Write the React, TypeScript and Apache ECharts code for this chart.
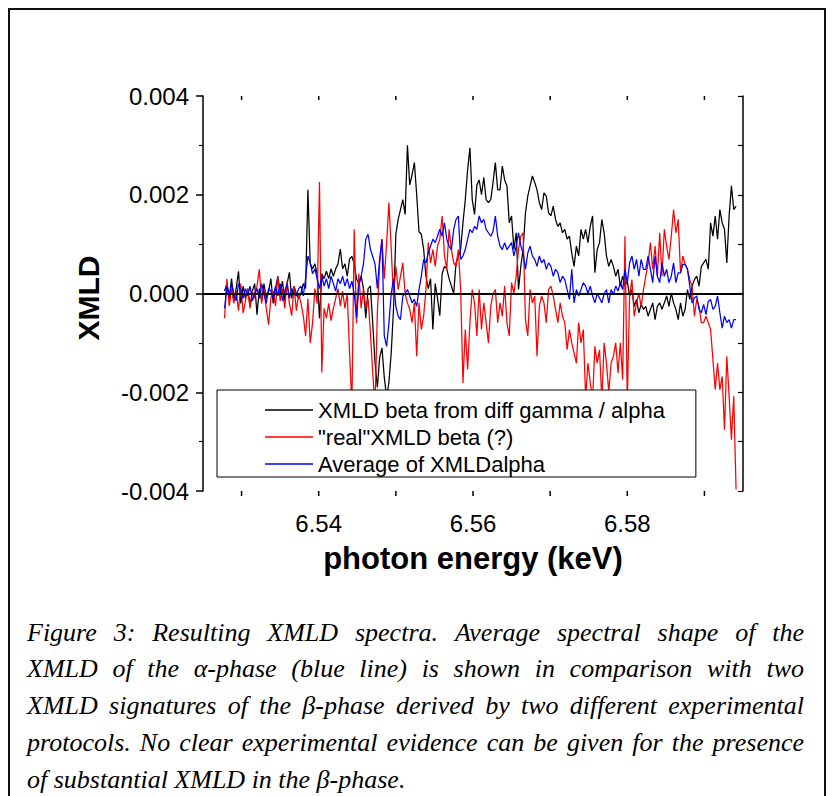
import React, { useEffect, useRef } from 'react';
import * as echarts from 'echarts';

// Energy grid (keV): first sample and spacing
const E0 = 6.5278;
const DE = 0.0003;

const xTickValues = [6.53, 6.54, 6.55, 6.56, 6.57, 6.58, 6.59];
const xLabelValues = [6.54, 6.56, 6.58];

const seriesNames = [
  'XMLD beta from diff gamma / alpha',
  '"real"XMLD beta (?)',
  'Average of XMLDalpha',
];
const seriesColors = ['#000000', '#ff0000', '#0000ff'];

// XMLD values in units of 1e-3
const blackBeta = [
  0.05, 0.2, -0.1, 0.3, -0.15, 0.1, 0.45, -0.2, 0.15, -0.1, 0.1, -0.25, 0.05, 0.2, -0.43, 0.1, -0.15, 0.2, -0.1, 0.05,
  0.3, -0.2, 0.1, 0.35, 0.0, 0.25, -0.15, 0.2, 0.43, -0.1, 0.15, 0.0, -0.1,
  0.0, 0.2, 0.1, 2.1, 0.6, 0.5, 0.6, 0.4, -0.5, 0.4, 0.3, 0.45, 0.3, 0.5, 0.35, 0.5, 0.6, 0.9, 0.5, 0.6,
  0.35, 0.7, 0.75, 0.6, 0.3, 0.2, 0.35, 0.1, -0.5, 0.1, 0.15, -0.6, -1.4, -1.9, -1.3, -1.1, -1.7, -2.1, -1.8, -1.2,
  -0.3, 1.2, 1.5, 1.7, 1.9, 1.6, 3.0, 2.2, 2.4, 2.65, 2.0, 1.25, 1.2, 0.9, 0.35, 0.1, 0.3, -0.73, 0.2, -0.1,
  -0.45, 0.4, 0.55, 0.5, 0.3, 0.15, 0.0, 0.62, 0.75, 0.9, 1.43, 1.9, 2.5, 2.95, 1.9, 1.6, 2.2, 2.3, 2.0, 2.35, 1.9,
  1.84, 1.9, 2.25, 2.65, 2.1, 2.1, 2.58, 2.3, 2.18, 1.43, 1.57, 0.89, 1.23, 0.08, 0.55, 0.9, 1.63, 1.97, 2.18, 2.38,
  2.25, 2.1, 1.84, 1.7, 2.04, 1.97, 1.63, 1.57, 1.77, 1.5, 1.36, 1.43, 1.23, 1.3, 1.1, 1.16, 0.82, 0.55, 0.96, 0.76, 1.3,
  1.1, 1.3, 1.03, 1.36, 1.57, 0.42, 0.89, 1.03, 1.5, 1.23, 0.76, 0.55, 0.69, 0.55, 0.35, 0.49, 0.15, 0.35, 0.15, 0.25,
  -0.05, 0.08, -0.26, -0.12, -0.39, -0.22, -0.32, -0.26, -0.46, -0.32, -0.19, -0.53, -0.26, -0.19, -0.32, -0.19, -0.05, -0.26, 0.01, -0.19, -0.32,
  -0.53, -0.19, -0.46, -0.32, 0.08, -0.12, 0.15, 0.28, 0.35, 0.15, 0.55, 0.62, 0.69, 0.49, 1.43, 1.16, 1.57, 1.1, 1.7, 1.43,
  1.3, 0.62, 1.57, 2.18, 1.7, 1.77,
];

const redBeta = [
  -0.5, 0.3, -0.25, 0.1, -0.2, 0.05, -0.35, 0.2, -0.4, -0.15, 0.1, -0.3, 0.05, -0.1, 0.15, 0.49, -0.2, 0.1, -0.3, -0.63,
  -0.1, 0.05, -0.25, 0.35, -0.15, 0.1, -0.3, 0.25, -0.2, -0.45, 0.15, -0.35, 0.0,
  -0.2, -0.45, -0.86, -0.1, -1.0, -0.6, 0.1, -0.2, 2.26, -1.6, -0.3, -0.5, -0.2, -0.55, -0.3, -0.1, 0.1, -0.25, 0.05, -0.3,
  0.0, -1.2, -2.3, 1.3, -0.6, 0.4, -0.3, 0.1, -0.3, -0.1, -0.8, -1.6, -2.3, -0.4, 0.6, 1.1, 0.3, 1.0, 1.84, 0.9,
  -0.1, 0.55, 0.08, 0.35, 0.62, 0.0, -0.19, -0.32, -0.59, -0.19, -1.27, -0.19, -0.73, -0.46, 0.08, 1.03, 0.62, 0.89, 0.55, 0.96,
  1.1, 1.57, 0.76, 0.49, 1.3, 0.89, 0.62, 0.55, 0.89, 0.08, -1.81, -0.73, -1.54, -0.59, 0.08, -0.19, -0.86, 0.08, -0.73, -0.19, -0.59,
  -1.0, -0.26, 0.0, 0.08, -0.59, -0.19, -0.46, 0.15, -0.59, -0.86, 0.22, 0.0, 0.35, 0.89, 1.16, 1.23, -0.53, -0.86, 0.08, -0.19,
  -0.05, -1.27, -0.26, -0.05, -0.19, -0.59, 0.08, 0.15, -0.05, -0.32, -0.59, -0.19, -0.46, -0.59, -1.14, -0.73, -1.0, -1.2, -1.41, -0.59, -1.0,
  -0.73, -2.1, -1.41, -1.81, -2.15, -1.07, -1.41, -1.14, -2.15, -1.0, -1.41, -2.0, -1.41, -1.27, -1.0, -1.61, -1.0, -1.74, 1.16, -2.2,
  -0.05, 0.28, -0.46, -0.19, 0.0, -0.26, 0.08, 0.35, 0.62, 1.03, 0.49, 0.96, 0.35, 1.23, 0.35, 1.3, 0.96, 0.69, 1.16, 1.7, 1.23,
  1.5, 0.42, 0.76, 0.59, 0.49, 0.28, 0.15, -0.46, -0.12, -0.26, -0.59, -0.59, -0.46, -0.59, -0.73, -1.34, -1.95, -1.41, -1.95, -1.68,
  -2.76, -1.27, -2.08, -2.96, -2.08, -3.97,
];

const blueAlpha = [
  -0.3, 0.15, -0.05, 0.2, 0.0, -0.15, 0.2, 0.05, -0.1, 0.1, -0.05, 0.15, -0.15, 0.0, 0.1, -0.1, 0.2, 0.0, -0.2, 0.1,
  0.05, -0.1, 0.15, -0.05, 0.2, -0.15, 0.05, 0.2, -0.1, 0.1, 0.0, -0.05, 0.1,
  0.15, -0.05, 0.3, 0.76, 0.62, 0.4, 0.5, 0.3, 0.1, 0.35, 0.15, 0.3, 0.1, 0.35, 0.2, 0.05, 0.3, 0.2, 0.35, 0.15,
  0.3, 0.1, 0.25, 0.0, -0.5, 0.15, 0.35, 0.6, 1.1, 1.2, 0.9, 0.75, 0.6, 0.1, 0.7, 1.1, -0.86, -1.07, -0.6, 0.0,
  0.3, -0.26, -0.46, -0.53, -0.05, 0.0, 0.08, -0.05, -0.19, -0.12, -0.26, 0.08, 0.35, 0.69, 0.62, 0.82, 0.96, 1.1, 1.03, 1.16,
  1.3, 1.16, 1.43, 1.1, 0.96, 0.89, 1.3, 1.5, 1.57, 0.69, 0.76, 0.89, 1.1, 1.3, 1.23, 1.36, 1.3, 1.57, 1.43, 1.5, 1.3,
  1.23, 1.16, 1.26, 1.57, 1.16, 0.96, 0.89, 1.03, 0.89, 0.96, 1.03, 0.76, 0.96, 1.23, 0.96, 0.82, 0.49, 0.82, 0.96, 0.76,
  0.69, 0.55, 0.76, 0.62, 0.69, 0.49, 0.62, 0.55, 0.35, 0.49, 0.42, 0.22, 0.35, 0.28, 0.08, -0.12, 0.49, -0.19, 0.08, -0.05, 0.08,
  0.22, 0.15, 0.0, 0.15, -0.05, -0.19, 0.0, -0.09, -0.19, 0.0, 0.08, -0.19, 0.08, -0.02, 0.15, 0.05, 0.22, 0.08, 0.49, 0.22,
  0.62, 0.76, 0.49, 0.69, 0.35, 0.69, 0.49, 0.49, 0.76, 0.49, 0.22, 0.76, 0.35, 0.22, 0.62, 0.35, 0.49, 0.22, 0.35, 0.62, 0.22,
  0.42, 0.42, 0.59, 0.59, 0.49, 0.15, -0.19, -0.09, -0.05, -0.32, -0.39, -0.22, -0.43, -0.16, -0.12, -0.32, -0.26, -0.05, -0.39, -0.7,
  -0.46, -0.59, -0.53, -0.7, -0.53, -0.53,
];

const xAxisTitle = 'photon energy (keV)';
const yAxisTitle = 'XMLD';

const captionLines = [
  'Figure 3: Resulting XMLD spectra. Average spectral shape of the',
  'XMLD of the α-phase (blue line) is shown in comparison with two',
  'XMLD signatures of the β-phase derived by two different experimental',
  'protocols. No clear experimental evidence can be given for the presence',
  'of substantial XMLD in the β-phase.',
];

const CAP_LEFT = 27;
const CAP_RIGHT = 804;
const CAP_Y0 = 632;
const CAP_LH = 36.8;
const CAP_FAMILY = '"Liberation Serif", "Times New Roman", serif';

function buildCaption(): any[] {
  const ctx = document.createElement('canvas').getContext('2d') as CanvasRenderingContext2D;
  const span = CAP_RIGHT - CAP_LEFT;
  ctx.font = `italic 100px ${CAP_FAMILY}`;
  let maxW = 0;
  captionLines.slice(0, captionLines.length - 1).forEach((l) => {
    maxW = Math.max(maxW, ctx.measureText(l).width);
  });
  const size = Math.min(26, (100 * span) / maxW * 0.995);
  const font = `italic ${size.toFixed(2)}px ${CAP_FAMILY}`;
  ctx.font = font;
  const els: any[] = [];
  captionLines.forEach((line, li) => {
    const y = CAP_Y0 + li * CAP_LH;
    if (li === captionLines.length - 1) {
      els.push({
        type: 'text', x: CAP_LEFT, y, silent: true,
        style: { text: line, font, fill: '#000', align: 'left', verticalAlign: 'middle' },
      });
      return;
    }
    const words = line.split(' ');
    const widths = words.map((w) => ctx.measureText(w).width);
    const total = widths.reduce((a, b) => a + b, 0);
    const gap = (span - total) / (words.length - 1);
    let x = CAP_LEFT;
    words.forEach((w, k) => {
      els.push({
        type: 'text', x, y, silent: true,
        style: { text: w, font, fill: '#000', align: 'left', verticalAlign: 'middle' },
      });
      x += widths[k] + gap;
    });
  });
  return els;
}

const toPairs = (vals: number[]) => vals.map((v, i) => [+(E0 + i * DE).toFixed(5), v / 1000]);

export default function App() {
  const ref = useRef<HTMLDivElement>(null);

  useEffect(() => {
    if (!ref.current) return;
    const chart = echarts.init(ref.current, undefined, { renderer: 'svg' });
    const axisLine = { show: true, lineStyle: { color: '#000', width: 1.5 } };
    const fam = '"Liberation Sans", Arial, sans-serif';
    const yFmt = (v: number) => (Math.abs(v) < 1e-9 ? 0 : v).toFixed(3);
    const allData = [blackBeta, redBeta, blueAlpha];

    const option: any = {
      animation: false,
      backgroundColor: '#ffffff',
      textStyle: { fontFamily: fam, color: '#000' },
      grid: { left: 203, top: 96, width: 540, height: 395, containLabel: false },
      legend: {
        data: seriesNames,
        orient: 'vertical',
        left: 217,
        top: 390,
        icon: 'rect',
        itemWidth: 48,
        itemHeight: 1.4,
        itemGap: 5,
        padding: [9, 31, 2, 48],
        backgroundColor: '#ffffff',
        borderColor: '#000',
        borderWidth: 1,
        borderRadius: 0,
        selectedMode: false,
        textStyle: { fontSize: 22, fontFamily: fam, color: '#000', lineHeight: 22 },
        z: 10,
      },
      xAxis: [
        {
          type: 'value',
          position: 'bottom',
          min: 6.525,
          max: 6.595,
          axisLine,
          splitLine: { show: false },
          axisTick: { show: false },
          axisLabel: {
            show: true,
            customValues: xLabelValues,
            formatter: (v: number) => v.toFixed(2),
            fontSize: 24,
            fontFamily: fam,
            color: '#000',
            margin: 20,
          },
        },
        {
          type: 'value',
          position: 'top',
          min: 6.525,
          max: 6.595,
          axisLine,
          splitLine: { show: false },
          axisTick: { show: false },
          axisLabel: { show: false },
        },
      ],
      yAxis: [
        {
          type: 'value',
          position: 'left',
          min: -0.004,
          max: 0.004,
          interval: 0.002,
          axisLine,
          splitLine: { show: false },
          axisTick: { show: true, inside: false, length: 7, lineStyle: { color: '#000', width: 1.5 } },
          minorTick: { show: true, splitNumber: 2, length: 4, lineStyle: { color: '#000', width: 1.2 } },
          axisLabel: { formatter: yFmt, fontSize: 24, fontFamily: fam, color: '#000', margin: 14 },
        },
        {
          type: 'value',
          position: 'right',
          min: -0.004,
          max: 0.004,
          interval: 0.001,
          axisLine,
          splitLine: { show: false },
          axisTick: { show: true, inside: true, length: 5, lineStyle: { color: '#000', width: 1.2 } },
          axisLabel: { show: false },
        },
      ],
      series: allData.map((vals, k) => ({
        name: seriesNames[k],
        type: 'line',
        data: toPairs(vals),
        symbol: 'none',
        showSymbol: false,
        color: seriesColors[k],
        lineStyle: { color: seriesColors[k], width: 1.25 },
        z: 2 + k,
        ...(k === 2
          ? {
              markLine: {
                silent: true,
                symbol: ['none', 'none'],
                label: { show: false },
                lineStyle: { color: '#000', width: 1.6, type: 'solid' },
                data: [{ yAxis: 0 }],
              },
            }
          : {}),
      })),
    };

    chart.setOption(option);

    // x-axis ticks placed through the axis scale
    const yBottom = chart.convertToPixel({ yAxisIndex: 0 }, -0.004) as number;
    const yTop = chart.convertToPixel({ yAxisIndex: 0 }, 0.004) as number;
    const tickEls: any[] = [];
    xTickValues.forEach((v) => {
      const x = chart.convertToPixel({ xAxisIndex: 0 }, v) as number;
      tickEls.push({
        type: 'line', silent: true, z: 5,
        shape: { x1: x, y1: yBottom, x2: x, y2: yBottom + 5 },
        style: { stroke: '#000', lineWidth: 1.5 },
      });
      tickEls.push({
        type: 'line', silent: true, z: 5,
        shape: { x1: x, y1: yTop, x2: x, y2: yTop + 4 },
        style: { stroke: '#000', lineWidth: 1.5 },
      });
    });

    chart.setOption({
      graphic: [
        {
          type: 'rect',
          silent: true,
          z: -10,
          shape: { x: 9, y: 9, width: 816, height: 800 },
          style: { fill: 'none', stroke: '#111', lineWidth: 2 },
        },
        {
          type: 'text',
          x: 473,
          y: 558,
          silent: true,
          style: { text: xAxisTitle, font: `bold 31px ${fam}`, fill: '#000', align: 'center', verticalAlign: 'middle' },
        },
        {
          type: 'text',
          x: 88,
          y: 298,
          rotation: Math.PI / 2,
          silent: true,
          style: { text: yAxisTitle, font: `bold 30px ${fam}`, fill: '#000', align: 'center', verticalAlign: 'middle' },
        },
        ...tickEls,
        ...buildCaption(),
      ],
    });
    return () => chart.dispose();
  }, []);

  return (
    <div
      ref={ref}
      style={{ position: 'absolute', left: 0, top: 0, width: 832, height: 796, background: '#fff' }}
    />
  );
}
